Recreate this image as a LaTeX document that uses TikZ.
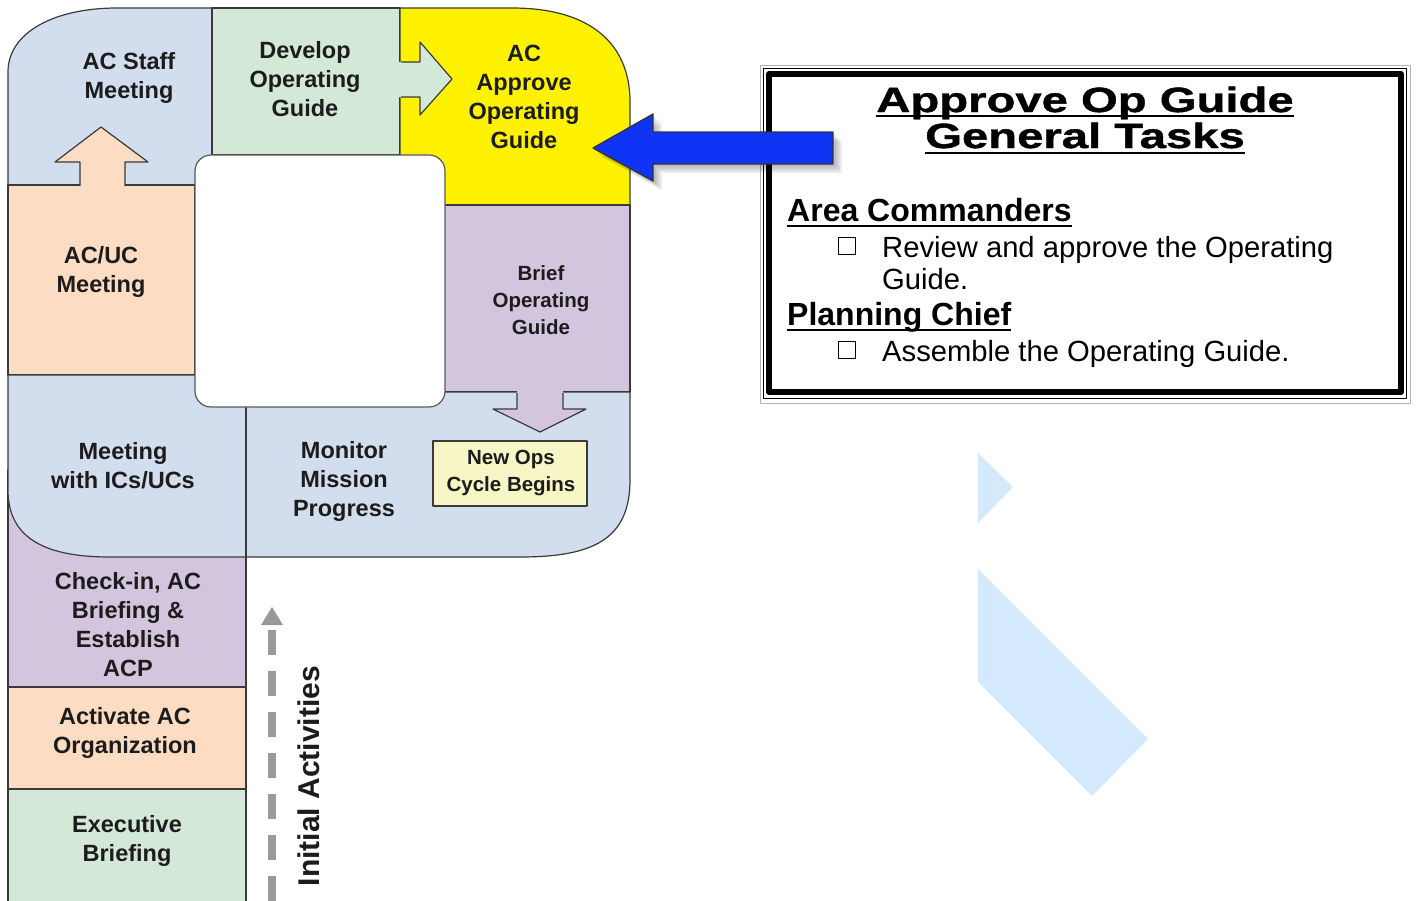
\documentclass[tikz,border=0pt]{standalone}
\usepackage{fontspec}
\setmainfont{Liberation Sans}
\newfontfamily\titlefont{Liberation Sans}[FakeStretch=1.35,FakeBold=1.2]

\definecolor{edge}{HTML}{3A3A3A}
\definecolor{ink}{HTML}{1C1C1C}
\definecolor{cblue}{HTML}{D2DDEE}
\definecolor{cgreen}{HTML}{D3E8D6}
\definecolor{cyellow}{HTML}{FFF200}
\definecolor{clav}{HTML}{D4C5DF}
\definecolor{cpeach}{HTML}{FCDDC3}
\definecolor{cnote}{HTML}{F6F6C6}
\definecolor{wmark}{HTML}{D5E9FD}
\definecolor{pointer}{HTML}{1034F5}
\definecolor{dashgray}{HTML}{9A9A9A}

\begin{document}
\begin{tikzpicture}[x=1pt,y=-1pt,line join=round,
  cell/.style={draw=edge,line width=1.2pt},
  lbl/.style={font=\bfseries\fontsize{23.5}{29}\selectfont,text=ink,align=center,inner sep=0pt},
  smalllbl/.style={font=\bfseries\fontsize{20.5}{27}\selectfont,text=ink,align=center,inner sep=0pt},
  titletxt/.style={font=\titlefont\bfseries\fontsize{35}{35}\selectfont,inner sep=0pt,anchor=base},
  headtxt/.style={font=\bfseries\fontsize{32}{32}\selectfont,inner sep=0pt,anchor=base west},
  bodytxt/.style={font=\fontsize{29.2}{32}\selectfont,inner sep=0pt,anchor=base west},
  tickbox/.style={draw,line width=1.3pt,minimum size=17pt,inner sep=0pt},
  uline/.style={line width=2.6pt}]
\useasboundingbox (0,0) rectangle (1416,900);

% faint background marks
\fill[wmark] (978,453) -- (1013,487) -- (978,523) -- cycle;
\fill[wmark] (978,569) -- (1148,739) -- (1092,796) -- (978,682) -- cycle;

% ---- lower left column ----
\draw[cell,fill=clav] (8,470) rectangle (246,687);
\draw[cell,fill=cpeach] (8,687) rectangle (246,789);
\draw[cell,fill=cgreen] (8,789) rectangle (246,915);

% ---- top row ----
\draw[cell,fill=cblue] (8,190) -- (8,72) .. controls (8,32) and (55,8) .. (117,8) -- (212,8) -- (212,190) -- cycle;
\draw[cell,fill=cgreen] (212,8) rectangle (400,155);
\draw[cell,fill=cyellow] (400,8) -- (512,8) .. controls (592,8) and (630,45) .. (630,102) -- (630,205) -- (400,205) -- cycle;

% ---- middle cells ----
\draw[cell,fill=cpeach] (8,185) rectangle (195,375);
\draw[cell,fill=clav] (300,205) rectangle (630,392);
\draw[cell,fill=cblue] (8,375) -- (300,375) -- (300,392) -- (630,392) -- (630,480)
  .. controls (630,540) and (592,557) .. (520,557) -- (110,557)
  .. controls (48,557) and (8,540) .. (8,490) -- cycle;
\draw[cell] (246,400) -- (246,557);

% ---- flow arrows between cells ----
\fill[cpeach] (80,187) -- (80,162) -- (55,162) -- (101,127) -- (148,162) -- (125,162) -- (125,187) -- cycle;
\draw[cell] (80,186) -- (80,162) -- (55,162) -- (101,127) -- (148,162) -- (125,162) -- (125,186);
\fill[cgreen] (398,62) -- (420,62) -- (420,42) -- (452,79) -- (420,115) -- (420,97) -- (398,97) -- cycle;
\draw[cell] (401,62) -- (420,62) -- (420,42) -- (452,79) -- (420,115) -- (420,97) -- (401,97);
\fill[clav] (517,390) -- (517,409) -- (493,409) -- (540,432) -- (586,409) -- (563,409) -- (563,390) -- cycle;
\draw[cell] (517,393) -- (517,409) -- (493,409) -- (540,432) -- (586,409) -- (563,409) -- (563,393);

% ---- inner hole ----
\draw[draw=gray!70!black,line width=1.2pt,fill=white,rounded corners=16pt] (195,155) rectangle (445,407);

% ---- new cycle note ----
\node[draw=edge,line width=1.2pt,fill=cnote,minimum width=154pt,minimum height=65pt,inner sep=0pt] (newops) at (510,473.5) {};
\node[smalllbl] (newopstxt) at (511,473) {New Ops\\Cycle Begins};

% ---- cell labels ----
\node[lbl] (staff) at (129,78) {AC Staff\\Meeting};
\node[lbl] (develop) at (305,79) {Develop\\Operating\\Guide};
\node[lbl] (approve) at (524,97) {AC\\Approve\\Operating\\Guide};
\node[smalllbl] (brief) at (541,300) {Brief\\Operating\\Guide};
\node[lbl] (acuc) at (101,272) {AC/UC\\Meeting};
\node[lbl] (icuc) at (123,466) {Meeting\\with ICs/UCs};
\node[lbl] (monitor) at (344,481) {Monitor\\Mission\\Progress};
\node[lbl] (checkin) at (128,625) {Check-in, AC\\Briefing \&\\Establish\\ACP};
\node[lbl] (activate) at (125,733) {Activate AC\\Organization};
\node[lbl] (exec) at (127,841) {Executive\\Briefing};

% ---- initial activities arrow ----
\coordinate (dashtop) at (272,630);
\coordinate (dashbot) at (272,905);
\draw[dashgray,line width=8pt,dash pattern=on 25pt off 16pt] (dashtop) -- (dashbot);
\fill[dashgray] (261,625) -- (283,625) -- (272,607) -- cycle;
\node[rotate=90,font=\bfseries\fontsize{30}{30}\selectfont,text=ink,inner sep=0pt] (initial) at (309,776) {Initial Activities};

% ---- task frame ----
\draw[gray!60,line width=1pt] (760,65) rectangle (1410,403);
\draw[black,line width=1.5pt] (763.5,68.5) rectangle (1406.5,398.5);
\draw[black,line width=6pt] (769,74) rectangle (1401,392);

% ---- pointer arrow with soft shadow ----
\foreach \d in {3,5,7,9}
  \fill[black,opacity=0.07,shift={(\d,\d)}] (593,148) -- (653,114) -- (653,132) -- (833,132) -- (833,164) -- (653,164) -- (653,181) -- cycle;
\draw[fill=pointer,draw=black!80,line width=1.3pt] (593,148) -- (653,114) -- (653,132) -- (833,132) -- (833,164) -- (653,164) -- (653,181) -- cycle;

% ---- task text ----
\node[titletxt] (t1) at (1085,112) {Approve Op Guide};
\node[titletxt] (t2) at (1085,148) {General Tasks};
\draw[uline] ([yshift=-4pt]t1.base west) -- ([yshift=-4pt]t1.base east);
\draw[uline] ([yshift=-5pt]t2.base west) -- ([yshift=-5pt]t2.base east);

\node[headtxt] (areacmd) at (787,221) {Area Commanders};
\draw[line width=2pt] ([yshift=-4.5pt]areacmd.base west) -- ([yshift=-4.5pt]areacmd.base east);
\node[tickbox] (box1) at (847,246) {};
\node[bodytxt] (task1a) at (882,257) {Review and approve the Operating};
\node[bodytxt] (task1b) at (882,289) {Guide.};

\node[headtxt] (planchief) at (787,325) {Planning Chief};
\draw[line width=2pt] ([yshift=-4.5pt]planchief.base west) -- ([yshift=-4.5pt]planchief.base east);
\node[tickbox] (box2) at (847,350) {};
\node[bodytxt] (task2) at (882,361) {Assemble the Operating Guide.};
\end{tikzpicture}
\end{document}
